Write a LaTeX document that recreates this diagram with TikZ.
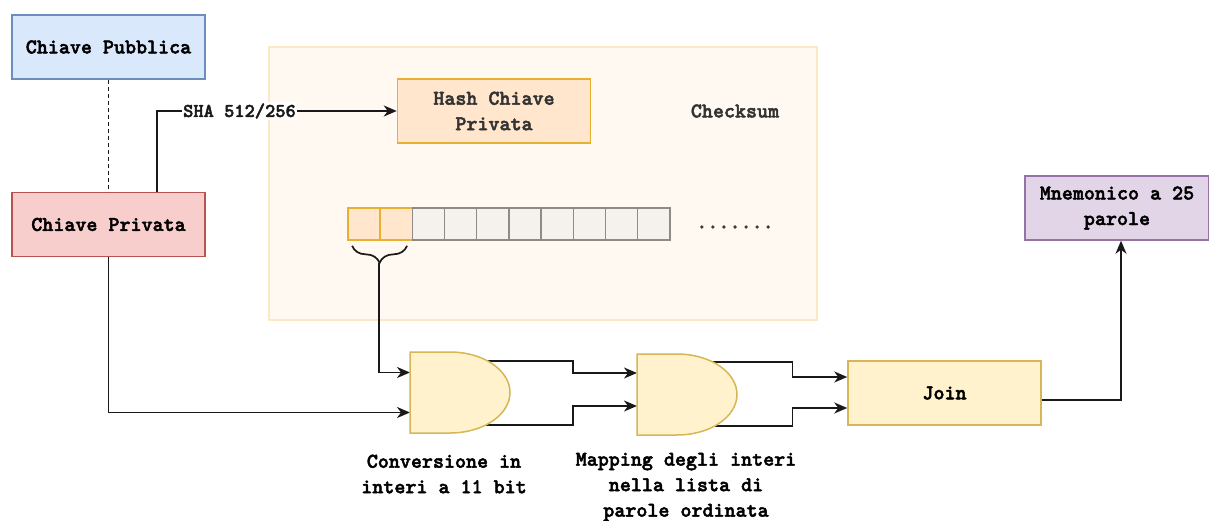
\documentclass[tikz,border=0pt]{standalone}
\usepackage{fontspec}
\newfontfamily\diagfont[FakeBold=2.2]{lmmonolt10-bold.otf}
\usepackage{xcolor}
\usepackage{tikz}
\usetikzlibrary{arrows.meta, positioning, decorations.pathreplacing, backgrounds}

\definecolor{pubfill}{HTML}{DAE8FC}
\definecolor{publine}{HTML}{6C8EBF}
\definecolor{privfill}{HTML}{F8CECC}
\definecolor{privline}{HTML}{B85450}
\definecolor{hashfill}{HTML}{FFE6CC}
\definecolor{hashline}{HTML}{E8B030}
\definecolor{gatefill}{HTML}{FFF2CC}
\definecolor{gateline}{HTML}{D6B656}
\definecolor{mnemofill}{HTML}{E1D5E7}
\definecolor{mnemoline}{HTML}{9673A6}
\definecolor{areafill}{HTML}{FFF9F2}
\definecolor{arealine}{HTML}{FBE9C6}
\definecolor{cellfill}{HTML}{F5F1EC}
\definecolor{cellline}{HTML}{8F8A85}
\definecolor{softtext}{HTML}{333333}

\begin{document}
\begin{tikzpicture}[
    x=1pt, y=-1pt,
    bigtext/.style={font=\diagfont\fontsize{21}{25.5}\selectfont},
    smalltext/.style={font=\diagfont\fontsize{19.5}{22}\selectfont},
    keybox/.style={rectangle, draw, line width=1.5pt, minimum width=193pt, minimum height=64pt, inner sep=0pt, align=center, bigtext},
    hashbox/.style={keybox, fill=hashfill, draw=hashline, text=softtext},
    joinbox/.style={keybox, fill=gatefill, draw=gateline},
    mnemobox/.style={keybox, fill=mnemofill, draw=mnemoline, minimum width=184pt},
    checkarea/.style={rectangle, draw=arealine, fill=areafill, line width=1.5pt, minimum width=548pt, minimum height=273pt},
    cell/.style={rectangle, draw=cellline, fill=cellfill, line width=1.5pt, minimum size=32.2pt, inner sep=0pt},
    hotcell/.style={cell, draw=hashline, fill=hashfill},
    gate/.style={rectangle, minimum width=100pt, minimum height=81pt, inner sep=0pt, outer sep=0pt},
    gatebody/.style={draw=gateline, fill=gatefill, line width=1.5pt},
    note/.style={bigtext, text=softtext, inner sep=1pt},
    caption/.style={bigtext, align=center, inner sep=1pt},
    link/.style={line width=1.7pt, color=black!90},
    arrow/.style={link, -{Stealth[length=13pt, width=11pt, inset=4pt]}}
]
    \useasboundingbox (0,0) rectangle (1209,521);

    % Nodes
    \node[keybox, fill=pubfill, draw=publine] (pub) at (108.5,47) {Chiave Pubblica};
    \node[keybox, fill=privfill, draw=privline, below=112pt of pub] (priv) {Chiave Privata};
    \node[hashbox] (hash) at (494,111) {Hash Chiave\\Privata};
    \node[note] (check) at (735,111) {Checksum};
    \foreach \i in {1,2}
        \node[hotcell] (c\i) at ({364+32.2*(\i-1)},224) {};
    \foreach \i in {3,...,10}
        \node[cell] (c\i) at ({364+32.2*(\i-1)},224) {};
    \node[note] (dots) at (735,227) {.......};
    \node[gate] (conv) at (460,392.5) {};
    \node[gate] (mapg) at (687,394.5) {};
    \node[joinbox] (join) at (944.5,393) {Join};
    \node[mnemobox] (mnemo) at (1117,208) {Mnemonico a 25\\parole};
    \node[caption] (convtext) at (444,474) {Conversione in\\interi a 11 bit};
    \node[caption] (maptext) at (686,487) {Mapping degli interi\\nella lista di\\parole ordinata};
    \coordinate (bracetip) at (379,263);

    % Checksum area
    \begin{scope}[on background layer]
        \node[checkarea] (area) at (543,183.5) {};
    \end{scope}

    % Arrows
    \draw[link, dash pattern=on 4pt off 3pt] (pub) -- (priv);
    \draw[arrow] ([xshift=48.5pt]priv.north) |- node[pos=0.672, smalltext, fill=white, inner sep=1pt] {SHA 512/256} (hash.west);
    \draw[link, decorate, decoration={brace, mirror, amplitude=17pt}] ([xshift=5pt, yshift=-5pt]c1.south west) -- ([xshift=-6pt, yshift=-5pt]c2.south east);
    \draw[arrow] (bracetip) |- ([yshift=20pt]conv.west);
    \draw[arrow] (priv.south) |- ([yshift=-20pt]conv.west);
    \draw[arrow] ([yshift=31.5pt]conv.center) -- ++(113,0) |- ([yshift=21.5pt]mapg.west);
    \draw[arrow] ([yshift=-32.5pt]conv.center) -- ++(113,0) |- ([yshift=-11.5pt]mapg.west);
    \draw[arrow] ([yshift=32.5pt]mapg.center) -- ++(105.5,0) |- ([yshift=16pt]join.west);
    \draw[arrow] ([yshift=-31.5pt]mapg.center) -- ++(105.5,0) |- ([yshift=-15pt]join.west);
    \draw[arrow] ([yshift=-7pt]join.east) -| ([xshift=4pt]mnemo.south);

    % Gate outlines
    \foreach \g in {conv, mapg}
        \draw[gatebody] (\g.south west) -- (\g.north west) -- ([xshift=40pt]\g.north west)
            arc[start angle=90, end angle=-90, x radius=60pt, y radius=40.5pt] -- cycle;

\end{tikzpicture}
\end{document}
